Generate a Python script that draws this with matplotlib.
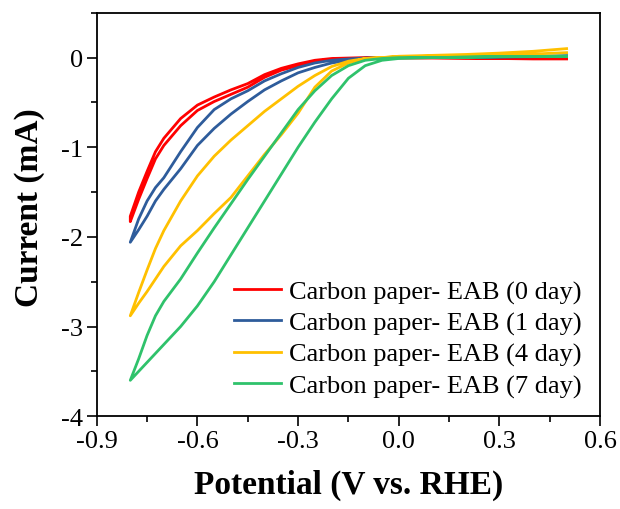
import matplotlib
matplotlib.use('Agg')
import matplotlib.pyplot as plt
from matplotlib.ticker import MultipleLocator

plt.rcParams['font.family'] = ['Liberation Serif', 'DejaVu Serif']
plt.rcParams['axes.unicode_minus'] = False

# potential grid (V vs. RHE), scan goes 0.5 -> -0.8, then back -0.8 -> 0.5
v_grid = [0.5, 0.4, 0.3, 0.2, 0.1, 0.0, -0.05, -0.1, -0.15, -0.2, -0.25, -0.3,
          -0.35, -0.4, -0.45, -0.5, -0.55, -0.6, -0.65, -0.7, -0.725, -0.75,
          -0.775, -0.8]

labels = ['Carbon paper- EAB (0 day)', 'Carbon paper- EAB (1 day)',
          'Carbon paper- EAB (4 day)', 'Carbon paper- EAB (7 day)']
colors = ['#ff0000', '#2e5c9b', '#ffc000', '#2fc26b']

# current (mA), more negative branch
i_red_down = [-0.015, -0.015, -0.01, -0.01, -0.005, -0.005, -0.005, -0.008, -0.012,
              -0.02, -0.04, -0.09, -0.14, -0.22, -0.33, -0.41, -0.49, -0.59,
              -0.76, -0.98, -1.13, -1.35, -1.58, -1.83]
i_blue_down = [0.015, 0.01, 0.005, 0.0, 0.0, 0.0, -0.005, -0.01, -0.03, -0.06,
               -0.11, -0.17, -0.26, -0.36, -0.49, -0.63, -0.79, -0.98, -1.24,
               -1.47, -1.6, -1.77, -1.92, -2.06]
i_yellow_down = [0.055, 0.04, 0.03, 0.02, 0.015, 0.01, 0.0, -0.01, -0.06, -0.15,
                 -0.33, -0.62, -0.86, -1.08, -1.32, -1.56, -1.74, -1.93, -2.1,
                 -2.33, -2.47, -2.61, -2.74, -2.88]
i_green_down = [0.015, 0.012, 0.01, 0.005, 0.0, -0.01, -0.03, -0.09, -0.23, -0.46,
                -0.72, -1.0, -1.3, -1.6, -1.9, -2.2, -2.5, -2.77, -3.0,
                -3.2, -3.3, -3.4, -3.5, -3.6]

# current (mA), less negative branch
i_red_up = [-0.01, -0.01, -0.005, 0.0, 0.0, 0.0, 0.0, 0.0, -0.005, -0.01, -0.03,
            -0.07, -0.12, -0.19, -0.29, -0.36, -0.44, -0.53, -0.68, -0.9,
            -1.05, -1.27, -1.5, -1.77]
i_blue_up = [0.02, 0.015, 0.01, 0.005, 0.0, 0.0, 0.0, -0.005, -0.015, -0.03,
             -0.06, -0.11, -0.18, -0.26, -0.37, -0.46, -0.58, -0.78, -1.05,
             -1.34, -1.45, -1.6, -1.8, -2.06]
i_yellow_up = [0.1, 0.07, 0.05, 0.035, 0.025, 0.015, 0.0, -0.01, -0.04, -0.1,
               -0.2, -0.32, -0.46, -0.6, -0.76, -0.92, -1.1, -1.32, -1.6,
               -1.93, -2.13, -2.37, -2.62, -2.88]
i_green_up = [0.015, 0.012, 0.01, 0.005, 0.0, 0.0, -0.01, -0.03, -0.09, -0.2,
              -0.37, -0.58, -0.84, -1.1, -1.36, -1.63, -1.9, -2.18, -2.47,
              -2.72, -2.88, -3.1, -3.36, -3.6]

down = [i_red_down, i_blue_down, i_yellow_down, i_green_down]
up = [i_red_up, i_blue_up, i_yellow_up, i_green_up]

fig = plt.figure(figsize=(6.2, 5.1), dpi=100)
ax = fig.add_axes([0.156, 0.182, 0.812, 0.791])

for d, u, c, lab in zip(down, up, colors, labels):
    v = v_grid + v_grid[::-1]
    cur = d + u[::-1]
    ax.plot(v, cur, color=c, lw=2.0, label=lab)

ax.set_xlim(-0.9, 0.6)
ax.set_ylim(-4, 0.5)
ax.xaxis.set_minor_locator(MultipleLocator(0.15))
ax.yaxis.set_minor_locator(MultipleLocator(0.5))
ax.set_xticks([-0.9, -0.6, -0.3, 0.0, 0.3, 0.6])
ax.set_xticklabels(['-0.9', '-0.6', '-0.3', '0.0', '0.3', '0.6'])
ax.set_yticks([-4, -3, -2, -1, 0])
ax.set_yticklabels(['-4', '-3', '-2', '-1', '0'])

ax.tick_params(which='major', direction='out', length=7, width=1.2,
               labelsize=19, pad=3)
ax.tick_params(which='minor', direction='out', length=4, width=1.2)
for s in ax.spines.values():
    s.set_linewidth(1.3)

ax.set_xlabel('Potential (V vs. RHE)', fontsize=24, fontweight='bold', labelpad=12)
ax.set_ylabel('Current (mA)', fontsize=24, fontweight='bold')
ax.yaxis.set_label_coords(-0.102, 0.52)

ax.legend(loc='lower right', frameon=False, fontsize=19, handlelength=1.8,
          handletextpad=0.3, labelspacing=0.28, borderaxespad=0.3)

fig.savefig('out.png', dpi=100)
